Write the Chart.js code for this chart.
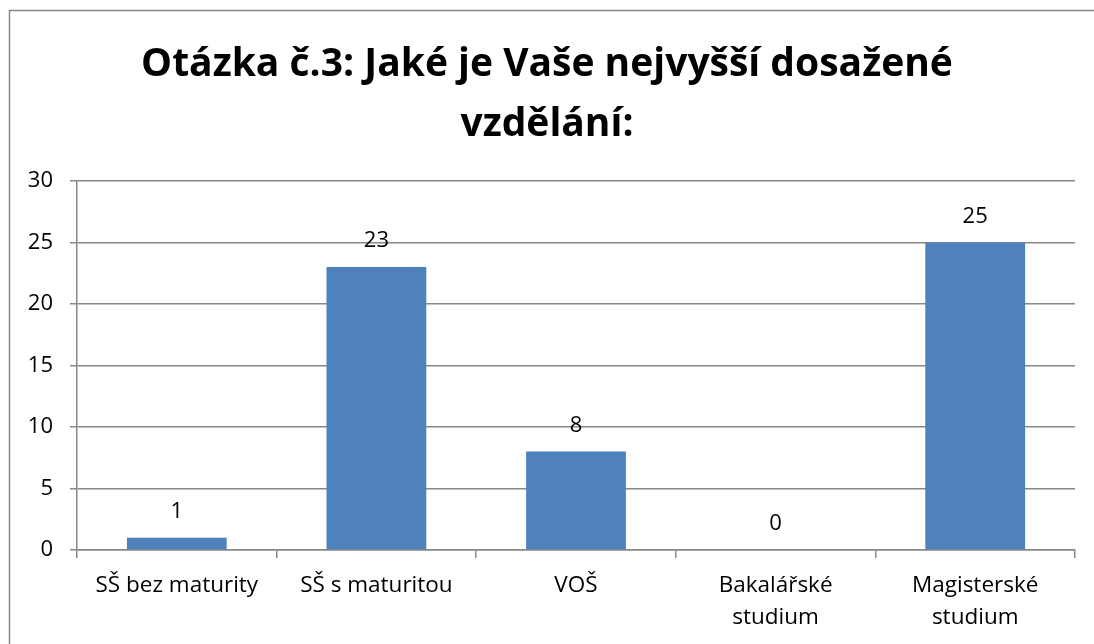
<!DOCTYPE html>
<html>
<head>
<meta charset="utf-8">
<script src="https://cdn.jsdelivr.net/npm/chart.js@4.4.1/dist/chart.umd.min.js"></script>
<style>
  html, body { margin: 0; padding: 0; background: #fff; }
  #wrap { width: 1094px; height: 644px; }
</style>
</head>
<body>
<div id="wrap"><canvas id="eduChart" width="1094" height="644"></canvas></div>
<script>
const categories = [
  'SŠ bez maturity',
  'SŠ s maturitou',
  'VOŠ',
  ['Bakalářské', 'studium'],
  ['Magisterské', 'studium'],
];
const counts = [1, 23, 8, 0, 25];
const titleLines = ['Otázka č.3: Jaké je Vaše nejvyšší dosažené', 'vzdělání:'];
const yMin = 0, yMax = 30, yStep = 5;

const FONT = '"Open Sans", sans-serif';
const GRID = '#878787';

// outer frame + title, drawn behind the chart
const framePlugin = {
  id: 'frame',
  beforeDraw(chart) {
    const ctx = chart.ctx;
    ctx.save();
    ctx.fillStyle = '#fff';
    ctx.fillRect(0, 0, chart.width, chart.height);
    ctx.strokeStyle = '#888';
    ctx.lineWidth = 1.5;
    ctx.strokeRect(9.5, 10.5, 1200, 800);
    ctx.fillStyle = '#000';
    ctx.font = 'bold 39px ' + FONT;
    ctx.textAlign = 'center';
    ctx.textBaseline = 'alphabetic';
    ctx.fillText(titleLines[0], 547, 76);
    ctx.fillText(titleLines[1], 547, 136);
    ctx.restore();
  }
};

// value labels above the bars
const valueLabels = {
  id: 'valueLabels',
  afterDatasetsDraw(chart) {
    const ctx = chart.ctx;
    const meta = chart.getDatasetMeta(0);
    ctx.save();
    ctx.fillStyle = '#000';
    ctx.font = '22px ' + FONT;
    ctx.textAlign = 'center';
    ctx.textBaseline = 'middle';
    meta.data.forEach((bar, i) => {
      ctx.fillText(String(counts[i]), bar.x, bar.y - 26);
    });
    ctx.restore();
  }
};

new Chart(document.getElementById('eduChart'), {
  type: 'bar',
  data: {
    labels: categories,
    datasets: [{
      data: counts,
      backgroundColor: '#4F81BD',
      borderWidth: 0,
      barPercentage: 0.5,
      categoryPercentage: 1.0,
    }]
  },
  options: {
    responsive: false,
    animation: false,
    events: [],
    layout: { padding: { left: 0, top: 181, right: 19, bottom: 0 } },
    plugins: {
      legend: { display: false },
      title: { display: false },
      tooltip: { enabled: false },
    },
    scales: {
      x: {
        afterFit(scale) { scale.height = 94; },
        grid: {
          display: true,
          drawOnChartArea: false,
          drawTicks: true,
          tickLength: 8,
          color: GRID,
          lineWidth: 1.5,
        },
        border: { color: GRID, width: 1.5 },
        ticks: {
          color: '#000',
          font: { family: FONT, size: 22.5, lineHeight: 1.42 },
          padding: 12,
          maxRotation: 0,
          autoSkip: false,
        },
      },
      y: {
        min: yMin,
        max: yMax,
        afterFit(scale) { scale.width = 77; },
        grid: {
          color: GRID,
          lineWidth: 1.5,
          tickLength: 7,
        },
        border: { color: GRID, width: 1.5 },
        ticks: {
          stepSize: yStep,
          color: '#000',
          font: { family: FONT, size: 22 },
          padding: 17,
        },
      },
    },
  },
  plugins: [framePlugin, valueLabels],
});
</script>
</body>
</html>
